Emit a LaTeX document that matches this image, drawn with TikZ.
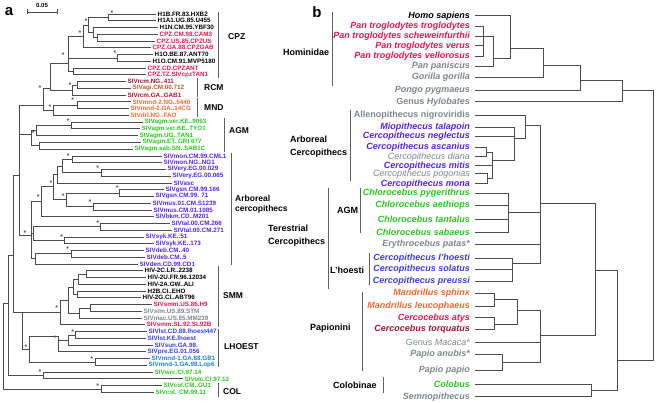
\documentclass[tikz,border=0pt]{standalone}
\usepackage{fontspec}
\setmainfont{Liberation Sans}
\definecolor{cpzred}{RGB}{238,22,80}
\definecolor{rcmred}{RGB}{165,20,55}
\definecolor{agibrown}{RGB}{175,95,45}
\definecolor{mndorange}{RGB}{250,105,45}
\definecolor{agmgreen}{RGB}{40,200,30}
\definecolor{arbviolet}{RGB}{85,35,235}
\definecolor{lhoblue}{RGB}{60,60,232}
\definecolor{mndteal}{RGB}{30,130,200}
\definecolor{spgrey}{RGB}{125,135,140}
\definecolor{treegrey}{RGB}{75,75,75}
\definecolor{bargrey}{RGB}{95,95,95}
\definecolor{stargrey}{RGB}{90,90,90}
\tikzset{
  leafa/.style={anchor=west, inner sep=0pt, inner xsep=1.5pt, font=\fontsize{6.3}{7}\selectfont\bfseries},
  leafb/.style={anchor=east, inner sep=0pt, inner xsep=5pt, font=\fontsize{9}{10}\selectfont\bfseries\itshape},
  plainb/.style={font=\fontsize{9}{10}\selectfont\itshape},
  cladea/.style={anchor=west, inner sep=0pt, align=left, font=\fontsize{8.5}{10.5}\selectfont\bfseries},
  cladeb/.style={anchor=west, inner sep=0pt, align=left, font=\fontsize{9}{12.5}\selectfont\bfseries},
  branch/.style={treegrey, line width=0.65pt},
  bline/.style={treegrey, line width=0.7pt},
  bar/.style={bargrey, line width=0.8pt},
  star/.style={inner sep=0pt, text=stargrey, font=\fontsize{7}{7}\selectfont\bfseries},
}
\begin{document}
\begin{tikzpicture}[x=1pt,y=-1pt]
\useasboundingbox (0,0) rectangle (656,403);
\node[font=\fontsize{15}{15}\selectfont\bfseries] (lbla) at (9,12) {a};
\node[font=\fontsize{15}{15}\selectfont\bfseries] (lblb) at (317,12) {b};
% scale bar
\node[inner sep=0pt, font=\fontsize{6}{6}\selectfont\bfseries] (scl) at (42,5.5) {0.05};
\draw[branch] (27,9.5) -- (27,14.5) (27,12) -- (57,12) (57,9.5) -- (57,14.5);

% panel a: virus leaves
\node[leafa] (hxb2) at (156,14.0) {H1B.FR.83.HXB2};
\node[leafa] (u455) at (156,20.8) {H1A1.UG.85.U455};
\node[leafa] (ybf30) at (158,27.5) {H1N.CM.95.YBF30};
\node[leafa, text=cpzred] (cam3) at (158,34.3) {CPZ.CM.98.CAM3};
\node[leafa, text=cpzred] (cpzus) at (155,41.0) {CPZ.US.85.CPZUS};
\node[leafa, text=cpzred] (cpzgab) at (151,47.8) {CPZ.GA.88.CPZGAB};
\node[leafa] (ant70) at (153,54.5) {H1O.BE.87.ANT70};
\node[leafa] (mvp) at (151,61.3) {H1O.CM.91.MVP5180};
\node[leafa, text=cpzred] (cpzant) at (146,68.0) {CPZ.CD.CPZANT};
\node[leafa, text=cpzred] (tan1) at (146,74.8) {CPZ.TZ.SIVcpzTAN1};
\node[leafa, text=rcmred] (rcm411) at (126,81.6) {SIVrcm.NG..411};
\node[leafa, text=agibrown] (agi) at (131,88.3) {SIVagi.CM.00.712};
\node[leafa, text=rcmred] (rcmgab) at (126,95.1) {SIVrcm.GA..GAB1};
\node[leafa, text=mndorange] (mnd5440) at (131,101.8) {SIVmnd-2.NG..5440};
\node[leafa, text=mndorange] (mnd14) at (129,108.6) {SIVmnd-2.GA..14CG};
\node[leafa, text=mndorange] (drl) at (129,115.3) {SIVdrl.NG..FAO};
\node[leafa, text=agmgreen] (agm9063) at (143,122.1) {SIVagm.ver.KE..9063};
\node[leafa, text=agmgreen] (tyo1) at (140,128.8) {SIVagm.ver.KE..TYO1};
\node[leafa, text=agmgreen] (agmtan1) at (138,135.6) {SIVagm.UG..TAN1};
\node[leafa, text=agmgreen] (gri) at (141,142.3) {SIVagm.ET..GRI 677};
\node[leafa, text=agmgreen] (sab1c) at (133,149.1) {SIVagm.sab.SN..SAB1C};
\node[leafa, text=arbviolet] (cml1) at (162,155.9) {SIVmon.CM.99.CML1};
\node[leafa, text=arbviolet] (ng1) at (162,162.6) {SIVmon.NG..NG1};
\node[leafa, text=arbviolet] (ery029) at (166,169.4) {SIVery.EG.00.029};
\node[leafa, text=arbviolet] (ery065) at (171,176.1) {SIVery.EG.00.065};
\node[leafa, text=arbviolet] (asc) at (172,182.9) {SIVasc};
\node[leafa, text=arbviolet] (gsn166) at (164,189.6) {SIVgsn.CM.99.166};
\node[leafa, text=arbviolet] (gsn71) at (154,196.4) {SIVgsn.CM.99. 71};
\node[leafa, text=arbviolet] (s1239) at (151,203.2) {SIVmus.01.CM.S1239};
\node[leafa, text=arbviolet] (m1085) at (152,209.9) {SIVmus.CM.01.1085};
\node[leafa, text=arbviolet] (bkm) at (154,216.7) {SIVbkm.CD..M201};
\node[leafa, text=arbviolet] (tal266) at (170,223.4) {SIVtal.00.CM.266};
\node[leafa, text=arbviolet] (tal271) at (172,230.2) {SIVtal.00.CM.271};
\node[leafa, text=arbviolet] (syk51) at (144,236.9) {SIVsyk.KE..51};
\node[leafa, text=arbviolet] (syk173) at (154,243.7) {SIVsyk.KE..173};
\node[leafa, text=arbviolet] (deb40) at (144,250.4) {SIVdeb.CM..40};
\node[leafa, text=arbviolet] (deb5) at (145,257.2) {SIVdeb.CM..5};
\node[leafa, text=arbviolet] (den) at (138,264.0) {SIVden.CD.99.CD1};
\node[leafa] (h2c) at (143,270.7) {HIV-2C.LR..2238};
\node[leafa] (h2u) at (146,277.5) {HIV-2U.FR.96.12034};
\node[leafa] (h2a) at (146,284.2) {HIV-2A.GW..ALI};
\node[leafa] (h2b) at (146,291.0) {H2B.CI..EHO};
\node[leafa] (h2g) at (141,297.7) {HIV-2G.CI..ABT96};
\node[leafa, text=cpzred] (h9) at (152,304.5) {SIVsmm.US.86.H9};
\node[leafa, text=spgrey] (stm) at (142,311.3) {SIVstm.US.89.STM};
\node[leafa, text=spgrey] (mac) at (142,318.0) {SIVmac.US.85.MM239};
\node[leafa, text=cpzred] (sl92b) at (145,324.8) {SIVsmm.SL.92.SL92B};
\node[leafa, text=lhoblue] (lst447) at (147,331.5) {SIVlst.CD.88.lhoest447};
\node[leafa, text=lhoblue] (lstke) at (146,338.3) {SIVlst.KE.lhoest};
\node[leafa, text=lhoblue] (sun) at (153,345.0) {SIVsun.GA.98.};
\node[leafa, text=lhoblue] (pre) at (146,351.8) {SIVpre.EG.01.056};
\node[leafa, text=mndteal] (gb1) at (150,358.6) {SIVmnd-1.GA.88.GB1};
\node[leafa, text=mndteal] (lop6) at (147,365.3) {SIVmnd-1.GA.98.Lop6};
\node[leafa, text=agmgreen] (wrc) at (153,372.1) {SIVwrc.CI.97.14};
\node[leafa, text=agmgreen] (olc) at (183,378.8) {SIVolc.CI.97.12};
\node[leafa, text=agmgreen] (gu1) at (162,385.6) {SIVcol.CM..GU1};
\node[leafa, text=agmgreen] (col11) at (154,392.3) {SIVcol. CM.99.11};

% panel a: inner nodes
\coordinate (n1) at (108,17.4);
\coordinate (n2) at (97,37.6);
\coordinate (n3) at (93,32);
\coordinate (n4) at (88,25);
\coordinate (n5) at (83,36);
\coordinate (n6) at (117,57.9);
\coordinate (n8) at (73,71.4);
\coordinate (n7) at (68,63);
\coordinate (r1) at (77,85);
\coordinate (r2) at (72,90);
\coordinate (n10) at (50,88);
\coordinate (m1) at (77,105.2);
\coordinate (m2) at (53,110);
\coordinate (n11) at (43,105);
\coordinate (a1) at (71,125.4);
\coordinate (a2) at (36,130);
\coordinate (a3) at (39,145.7);
\coordinate (a4) at (31,134);
\coordinate (c1) at (72,159.2);
\coordinate (c2) at (101,172.7);
\coordinate (c3) at (62,166);
\coordinate (c4) at (57,174);
\coordinate (c5) at (119,193);
\coordinate (c6) at (93,206.5);
\coordinate (c7) at (66,199);
\coordinate (c8) at (53,186);
\coordinate (c9) at (41,201);
\coordinate (t1) at (100,226.8);
\coordinate (t2) at (64,240.3);
\coordinate (t3) at (33,233);
\coordinate (t4) at (71,253.8);
\coordinate (t5) at (35,258);
\coordinate (ct) at (31,235);
\coordinate (p) at (19,175);
\coordinate (s1) at (86,274.1);
\coordinate (s2) at (78,279);
\coordinate (s3) at (77,294.4);
\coordinate (s4) at (73,287);
\coordinate (hs) at (90,307.9);
\coordinate (hm) at (79,313);
\coordinate (s5) at (68,300);
\coordinate (s6) at (60,312);
\coordinate (l1) at (75,334.9);
\coordinate (l2) at (68,340);
\coordinate (l3) at (58,336);
\coordinate (l4) at (95,362);
\coordinate (l5) at (29,349);
\coordinate (sl) at (22,312);
\coordinate (q) at (13,255);
\coordinate (wo) at (43,375.5);
\coordinate (r) at (8,303);
\coordinate (colg) at (101,389);
\coordinate (root) at (3,345);

\draw[branch] (n1) |- (hxb2) (n1) |- (u455);
\draw[branch] (n2) |- (cam3) (n2) |- (cpzus);
\draw[branch] (n3) |- (ybf30) (n3) |- (n2);
\draw[branch] (n4) |- (n1) (n4) |- (n3);
\draw[branch] (n5) |- (n4) (n5) |- (cpzgab);
\draw[branch] (n6) |- (ant70) (n6) |- (mvp);
\draw[branch] (n8) |- (cpzant) (n8) |- (tan1);
\draw[branch] (n7) |- (n5) (n7) |- (n6) (n7) |- (n8);
\draw[branch] (r1) |- (rcm411) (r1) |- (agi);
\draw[branch] (r2) |- (r1) (r2) |- (rcmgab);
\draw[branch] (n10) |- (n7) (n10) |- (r2);
\draw[branch] (m1) |- (mnd5440) (m1) |- (mnd14);
\draw[branch] (m2) |- (m1) (m2) |- (drl);
\draw[branch] (n11) |- (n10) (n11) |- (m2);
\draw[branch] (a1) |- (agm9063) (a1) |- (tyo1);
\draw[branch] (a2) |- (a1) (a2) |- (agmtan1);
\draw[branch] (a3) |- (gri) (a3) |- (sab1c);
\draw[branch] (a4) |- (a2) (a4) |- (a3);
\draw[branch] (c1) |- (cml1) (c1) |- (ng1);
\draw[branch] (c2) |- (ery029) (c2) |- (ery065);
\draw[branch] (c3) |- (c1) (c3) |- (c2);
\draw[branch] (c4) |- (c3) (c4) |- (asc);
\draw[branch] (c5) |- (gsn166) (c5) |- (gsn71);
\draw[branch] (c6) |- (s1239) (c6) |- (m1085);
\draw[branch] (c7) |- (c5) (c7) |- (c6);
\draw[branch] (c8) |- (c4) (c8) |- (c7);
\draw[branch] (c9) |- (c8) (c9) |- (bkm);
\draw[branch] (t1) |- (tal266) (t1) |- (tal271);
\draw[branch] (t2) |- (syk51) (t2) |- (syk173);
\draw[branch] (t3) |- (t1) (t3) |- (t2);
\draw[branch] (t4) |- (deb40) (t4) |- (deb5);
\draw[branch] (t5) |- (t4) (t5) |- (den);
\draw[branch] (ct) |- (c9) (ct) |- (t3) (ct) |- (t5);
\draw[branch] (p) |- (n11) (p) |- (a4) (p) |- (ct);
\draw[branch] (s1) |- (h2c) (s1) |- (h2u);
\draw[branch] (s2) |- (s1) (s2) |- (h2a);
\draw[branch] (s3) |- (h2b) (s3) |- (h2g);
\draw[branch] (s4) |- (s2) (s4) |- (s3);
\draw[branch] (hs) |- (h9) (hs) |- (stm);
\draw[branch] (hm) |- (hs) (hm) |- (mac);
\draw[branch] (s5) |- (s4) (s5) |- (hm);
\draw[branch] (s6) |- (s5) (s6) |- (sl92b);
\draw[branch] (l1) |- (lst447) (l1) |- (lstke);
\draw[branch] (l2) |- (l1) (l2) |- (sun);
\draw[branch] (l3) |- (l2) (l3) |- (pre);
\draw[branch] (l4) |- (gb1) (l4) |- (lop6);
\draw[branch] (l5) |- (l3) (l5) |- (l4);
\draw[branch] (sl) |- (s6) (sl) |- (l5);
\draw[branch] (q) |- (p) (q) |- (sl);
\draw[branch] (wo) |- (wrc) (wo) |- (olc);
\draw[branch] (r) |- (q) (r) |- (wo);
\draw[branch] (colg) |- (gu1) (colg) |- (col11);
\draw[branch] (root) |- (r) (root) |- (colg);

% bootstrap stars
\foreach \sx/\sy [count=\k] in {112/13, 86/20.7, 80/33.3, 115/53.3, 63.3/55, 70/85, 40/88.3,
    72.7/100, 50/106.7, 68.3/121, 33.3/133.3, 68.3/155.7, 97.7/168.3, 117.3/188.3,
    90/201.7, 63.3/195.7, 51/183.3, 38.3/196.7, 97.7/222.7, 61.7/236.7, 67.7/249.3,
    25/233.3, 56.7/308.3, 72.7/331.7, 55/337.7, 91.7/359.3, 26/347.3, 40/371.7, 97.7/385.7}
  \node[star] (st\k) at (\sx,\sy) {*};

% panel a: clade bars
\draw[bar] (218,11.7) -- (218,78);
\node[cladea] (cpz) at (228,36.7) {CPZ};
\draw[bar] (197,78) -- (197,97);
\node[cladea] (rcm) at (204,88) {RCM};
\draw[bar] (197,98) -- (197,117);
\node[cladea] (mnd) at (204,108) {MND};
\draw[bar] (224,118) -- (224,152);
\node[cladea] (agm) at (229,131) {AGM};
\draw[bar] (231,153) -- (231,265);
\node[cladea] (arb) at (235,204.3) {Arboreal\\cercopithecs};
\draw[bar] (218,266) -- (218,327);
\node[cladea] (smm) at (223,296) {SMM};
\draw[bar] (218,329) -- (218,367);
\node[cladea] (lhoest) at (224,347) {LHOEST};
\draw[bar] (218,383) -- (218,397);
\node[cladea] (colc) at (223,392) {COL};

% panel b: host species
\node[leafb] (homo) at (475,15.7) {Homo sapiens};
\node[leafb, text=cpzred] (ptt) at (475,26) {Pan troglodytes troglodytes};
\node[leafb, text=cpzred] (pts) at (475,36) {Pan troglodytes scheweinfurthii};
\node[leafb, text=cpzred] (ptv) at (475,45.7) {Pan troglodytes verus};
\node[leafb, text=cpzred] (ptve) at (475,56) {Pan troglodytes vellorosus};
\node[leafb, text=spgrey] (panis) at (475,66) {Pan paniscus};
\node[leafb, text=spgrey] (gorilla) at (475,77.3) {Gorilla gorilla};
\node[leafb, text=spgrey] (pongo) at (475,90) {Pongo pygmaeus};
\node[leafb, text=spgrey] (hylo) at (475,101.7) {{\upshape Genus} Hylobates};
\node[leafb, text=spgrey, font=\fontsize{9}{10}\selectfont\bfseries] (allen) at (475,115) {Allenopithecus nigroviridis};
\node[leafb, text=arbviolet] (talap) at (475,127) {Miopithecus talapoin};
\node[leafb, text=arbviolet] (negl) at (475,136.3) {Cercopithecus neglectus};
\node[leafb, text=arbviolet] (ascan) at (475,147.3) {Cercopithecus ascanius};
\node[leafb, plainb, text=spgrey] (diana) at (475,156.7) {Cercopithecus diana};
\node[leafb, text=arbviolet] (mitis) at (475,165.7) {Cercopithecus mitis};
\node[leafb, plainb, text=spgrey] (pogon) at (475,173.7) {Cercopithecus pogonias};
\node[leafb, text=arbviolet] (mona) at (475,183.7) {Cercopithecus mona};
\node[leafb, text=agmgreen] (pyger) at (475,193.3) {Chlorocebus pygerithrus};
\node[leafb, text=agmgreen] (aethi) at (475,205) {Chlorocebus aethiops};
\node[leafb, text=agmgreen] (tanta) at (475,219.3) {Chlorocebus tantalus};
\node[leafb, text=agmgreen] (sabae) at (475,232.7) {Chlorocebus sabaeus};
\node[leafb, text=spgrey] (patas) at (475,244.3) {Erythrocebus patas*};
\node[leafb, text=lhoblue] (lhoes) at (475,258.3) {Cercopithecus l'hoesti};
\node[leafb, text=lhoblue] (solat) at (475,269) {Cercopithecus solatus};
\node[leafb, text=lhoblue] (preus) at (475,281) {Cercopithecus preussi};
\node[leafb, text=mndorange] (sphinx) at (475,293.3) {Mandrillus sphinx};
\node[leafb, text=mndorange] (leuco) at (475,306) {Mandrillus leucophaeus};
\node[leafb, text=cpzred] (atys) at (475,317.7) {Cercocebus atys};
\node[leafb, text=rcmred] (torq) at (475,329.3) {Cercocebus torquatus};
\node[leafb, plainb, text=spgrey] (macaca) at (475,342.3) {{\upshape Genus} Macaca*};
\node[leafb, text=spgrey] (anubis) at (475,354) {Papio anubis*};
\node[leafb, text=spgrey] (papio) at (475,370) {Papio papio};
\node[leafb, text=agmgreen] (colobus) at (475,384.3) {Colobus};
\node[leafb, text=spgrey] (semno) at (475,396.7) {Semnopithecus};

% panel b: inner nodes
\coordinate (bpt) at (483,36);
\coordinate (bpan) at (493,58);
\coordinate (bhom) at (510,48);
\coordinate (bhg) at (543,65);
\coordinate (bhgp) at (580,80);
\coordinate (bhomin) at (622,90);
\coordinate (bad) at (486,152);
\coordinate (bpm) at (487,178.7);
\coordinate (badm) at (492,160);
\coordinate (bmn) at (514,138);
\coordinate (ban) at (525,125);
\coordinate (bchl) at (508,212);
\coordinate (blh) at (512,263);
\coordinate (bcer) at (540,203);
\coordinate (bmand) at (494,299);
\coordinate (bcerco) at (494,324);
\coordinate (bmc) at (517,310);
\coordinate (bpapio) at (502,362);
\coordinate (bpap) at (540,335);
\coordinate (bcp) at (595,270);
\coordinate (bcol) at (591,390);
\coordinate (bcerc) at (617,360);
\coordinate (broot) at (653,200);

\draw[bline] (bpt) |- (ptt) (bpt) |- (pts) (bpt) |- (ptv) (bpt) |- (ptve);
\draw[bline] (bpan) |- (bpt) (bpan) |- (panis);
\draw[bline] (bhom) |- (homo) (bhom) |- (bpan);
\draw[bline] (bhg) |- (bhom) (bhg) |- (gorilla);
\draw[bline] (bhgp) |- (bhg) (bhgp) |- (pongo);
\draw[bline] (bhomin) |- (bhgp) (bhomin) |- (hylo);
\draw[bline] (bad) |- (ascan) (bad) |- (diana);
\draw[bline] (bpm) |- (pogon) (bpm) |- (mona);
\draw[bline] (badm) |- (bad) (badm) |- (mitis) (badm) |- (bpm);
\draw[bline] (bmn) |- (talap) (bmn) |- (negl) (bmn) |- (badm);
\draw[bline] (ban) |- (allen) (ban) |- (bmn);
\draw[bline] (bchl) |- (pyger) (bchl) |- (aethi) (bchl) |- (tanta) (bchl) |- (sabae);
\draw[bline] (blh) |- (lhoes) (blh) |- (solat) (blh) |- (preus);
\draw[bline] (bcer) |- (ban) (bcer) |- (bchl) (bcer) |- (patas) (bcer) |- (blh);
\draw[bline] (bmand) |- (sphinx) (bmand) |- (leuco);
\draw[bline] (bcerco) |- (atys) (bcerco) |- (torq);
\draw[bline] (bmc) |- (bmand) (bmc) |- (bcerco);
\draw[bline] (bpapio) |- (anubis) (bpapio) |- (papio);
\draw[bline] (bpap) |- (bmc) (bpap) |- (macaca) (bpap) |- (bpapio);
\draw[bline] (bcp) |- (bcer) (bcp) |- (bpap);
\draw[bline] (bcol) |- (colobus) (bcol) |- (semno);
\draw[bline] (bcerc) |- (bcp) (bcerc) |- (bcol);
\draw[bline] (broot) |- (bhomin) (broot) |- (bcerc);

% panel b: groups
\draw[bar] (332,12) -- (332,86);
\node[cladeb] (homin) at (283,52) {Hominidae};
\draw[bar] (350,110) -- (350,181);
\node[cladeb] (arbc) at (290,146.5) {Arboreal\\Cercopithecs};
\draw[bar] (328,188) -- (328,289);
\node[cladeb] (terc) at (268,235.5) {Terestrial\\Cercopithecs};
\draw[bar] (360,188) -- (360,233);
\node[cladeb] (agmb) at (337,210) {AGM};
\draw[bar] (369,253) -- (369,285);
\node[cladeb] (lhob) at (330,270) {L'hoesti};
\draw[bar] (362,292) -- (362,371);
\node[cladeb] (papb) at (310,328) {Papionini};
\draw[bar] (383,377) -- (383,393);
\node[cladeb] (colb) at (333,385) {Colobinae};
\end{tikzpicture}
\end{document}
